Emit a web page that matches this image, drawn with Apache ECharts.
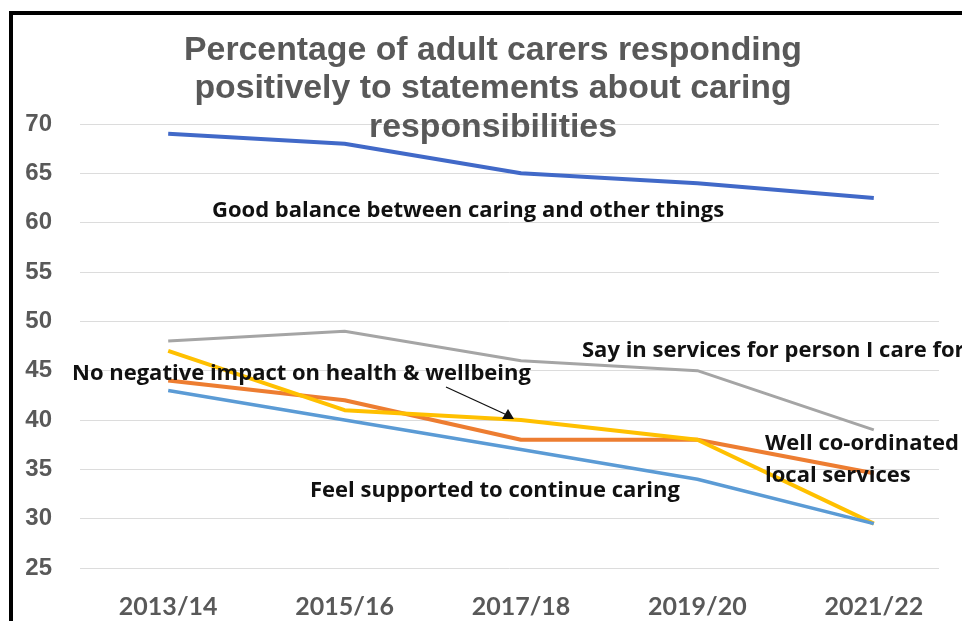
<!DOCTYPE html>
<html>
<head>
<meta charset="utf-8">
<script src="https://cdn.jsdelivr.net/npm/echarts@6/dist/echarts.min.js"></script>
<style>
  html, body { margin: 0; padding: 0; background: #ffffff; }
  #chart { width: 962px; height: 621px; }
</style>
</head>
<body>
<div id="chart"></div>
<script>
// Survey years
const years = ['2013/14', '2015/16', '2017/18', '2019/20', '2021/22'];

// Percentage responding positively, per statement
const goodBalance      = [69, 68, 65, 64, 62.5];
const wellCoordinated  = [44, 42, 38, 38, 34.6];
const sayInServices    = [48, 49, 46, 45, 39];
const noNegativeImpact = [47, 41, 40, 38, 29.5];
const feelSupported    = [43, 40, 37, 34, 29.5];

// Value axis ticks
const yMin = 25, yMax = 70, yStep = 5;

const chart = echarts.init(document.getElementById('chart'), null, { renderer: 'canvas' });

const noteStyle = { fontFamily: 'Open Sans', fontWeight: 'bold', fontSize: 22, fill: '#111111' };

function note(text, x, y) {
  return {
    type: 'text',
    z: 10,
    style: Object.assign({ text: text, x: x, y: y, verticalAlign: 'middle', align: 'left' }, noteStyle)
  };
}

function line(name, data, color, width) {
  return {
    name: name,
    type: 'line',
    data: data,
    xAxisIndex: 0,
    yAxisIndex: 0,
    symbol: 'none',
    smooth: false,
    lineStyle: { color: color, width: width },
    z: 3
  };
}

chart.setOption({
  animation: false,
  backgroundColor: '#ffffff',
  title: {
    text: 'Percentage of adult carers responding\npositively to statements about caring\nresponsibilities',
    left: 488,
    top: 26,
    textAlign: 'center',
    textStyle: {
      fontFamily: 'Liberation Sans',
      fontWeight: 'bold',
      fontSize: 33.8,
      lineHeight: 38.5,
      color: '#595959'
    }
  },
  grid: [
    { left: 80, right: -5, top: 124, bottom: 53 },
    { left: 80, right: 23, top: 124, bottom: 53 }
  ],
  xAxis: [
    {
      type: 'category',
      gridIndex: 0,
      data: years,
      boundaryGap: true,
      axisLine: { show: false },
      axisTick: { show: false },
      splitLine: { show: false },
      axisLabel: {
        margin: 26,
        fontFamily: 'Lato',
        fontWeight: 'bold',
        fontSize: 25,
        color: '#595959'
      }
    },
    { type: 'category', gridIndex: 1, data: years, show: false }
  ],
  yAxis: [
    {
      type: 'value',
      gridIndex: 0,
      min: yMin,
      max: yMax,
      interval: yStep,
      axisLine: { show: false },
      axisTick: { show: false },
      splitLine: { show: false },
      axisLabel: {
        margin: 28,
        fontFamily: 'Liberation Sans',
        fontWeight: 'bold',
        fontSize: 24,
        color: '#595959'
      }
    },
    {
      type: 'value',
      gridIndex: 1,
      min: yMin,
      max: yMax,
      interval: yStep,
      axisLine: { show: false },
      axisTick: { show: false },
      axisLabel: { show: false },
      splitLine: { show: true, lineStyle: { color: '#dcdcdc', width: 1 } }
    }
  ],
  series: [
    line('Good balance between caring and other things', goodBalance, '#4169C8', 4),
    line('Well co-ordinated local services', wellCoordinated, '#ED7D31', 4),
    line('Say in services for person I care for', sayInServices, '#A5A5A5', 3),
    line('No negative impact on health & wellbeing', noNegativeImpact, '#FFC000', 4),
    line('Feel supported to continue caring', feelSupported, '#5B9BD5', 3.5)
  ],
  graphic: [
    // frame edges
    { type: 'rect', shape: { x: 9, y: 11, width: 960, height: 4 }, style: { fill: '#000000' }, z: 20 },
    { type: 'rect', shape: { x: 9, y: 11, width: 4, height: 620 }, style: { fill: '#000000' }, z: 20 },
    note('Good balance between caring and other things', 212, 211),
    note('Say in services for person I care for', 582, 351),
    note('No negative impact on health & wellbeing', 72, 374),
    note('Feel supported to continue caring', 310, 491),
    note('Well co-ordinated', 765, 444),
    note('local services', 765, 476),
    {
      type: 'line',
      z: 10,
      shape: { x1: 446, y1: 387, x2: 507, y2: 415 },
      style: { stroke: '#111111', lineWidth: 1.3 }
    },
    {
      type: 'polygon',
      z: 10,
      shape: { points: [[514, 419], [502, 419], [508, 409]] },
      style: { fill: '#111111' }
    }
  ]
});
</script>
</body>
</html>
